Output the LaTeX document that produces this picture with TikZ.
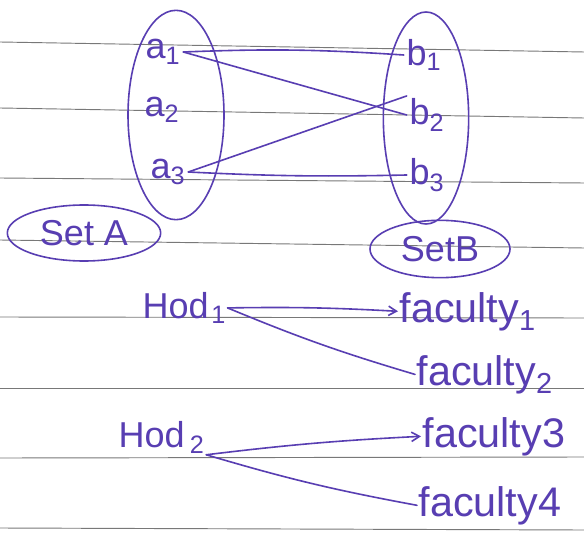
\documentclass[tikz,border=0pt]{standalone}
\usepackage{fontspec}
\setmainfont{Liberation Sans}
\usetikzlibrary{shapes.geometric,arrows.meta}
\definecolor{ink}{RGB}{88,62,178}
\definecolor{rule}{RGB}{120,120,120}
\tikzset{
  paperline/.style={draw=rule, line width=0.7pt},
  inkline/.style={draw=ink, line width=1.2pt, line cap=round},
  elem/.style={text=ink, font=\fontsize{27}{30}\selectfont, inner sep=2pt},
  hodlbl/.style={text=ink, font=\fontsize{27}{30}\selectfont, inner sep=1pt},
  faclbl/.style={text=ink, font=\fontsize{31}{34}\selectfont, inner sep=1pt},
  setoval/.style={ellipse, draw=ink, line width=1.2pt, inner sep=0pt, text=ink, font=\fontsize{27}{30}\selectfont},
  tip/.style={-{Straight Barb[length=6pt,width=7pt]}}
}
\begin{document}
\begin{tikzpicture}[x=0.75pt,y=-0.75pt]
\path[use as bounding box, fill=white] (0,0) rectangle (584,541);
% ruled paper lines
\draw[paperline] (0,42) -- (584,52);
\draw[paperline] (0,108) -- (584,118);
\draw[paperline] (0,178) -- (584,183);
\draw[paperline] (0,240) -- (584,248);
\draw[paperline] (0,317) -- (584,318);
\draw[paperline] (0,388) -- (584,388);
\draw[paperline] (0,458) -- (584,457);
\draw[paperline] (0,528) -- (584,530);
% set ellipses
\node[setoval, minimum width=72pt, minimum height=157pt] (A) at (176,115) {};
\node[setoval, minimum width=64pt, minimum height=159pt] (B) at (426,118) {};
\node[setoval, minimum width=115pt, minimum height=42pt] (setA) at (84,233) {Set A};
\node[setoval, minimum width=105pt, minimum height=43pt] (setB) at (440,249) {SetB};
% elements
\node[elem] (a1) at (163,52) {a\textsubscript{1}};
\node[elem] (a2) at (162,110) {a\textsubscript{2}};
\node[elem] (a3) at (168,172) {a\textsubscript{3}};
\node[elem] (b1) at (424,55) {b\textsubscript{1}};
\node[elem] (b2) at (427,115) {b\textsubscript{2}};
\node[elem] (b3) at (427,175) {b\textsubscript{3}};
% mappings
\draw[inkline] (a1.east) to[bend left=3] (b1.west);
\draw[inkline] (a1.east) -- (b2.west);
\draw[inkline] (a3.east) -- (b2.north west);
\draw[inkline] (a3.east) to[bend right=2] (b3.west);
% HOD / faculty
\node[hodlbl, anchor=base west] (hod1) at (141,318) {Hod\hspace{2pt}\textsubscript{1}};
\node[hodlbl, anchor=base west] (hod2) at (117,447) {Hod\hspace{4pt}\textsubscript{2}};
\node[faclbl, anchor=base west] (f1) at (398,322) {faculty\textsubscript{1}};
\node[faclbl, anchor=base west] (f2) at (415,385) {faculty\textsubscript{2}};
\node[faclbl, anchor=base west] (f3) at (421,447) {faculty3};
\node[faclbl, anchor=base west] (f4) at (417,516) {faculty4};
\draw[inkline, tip] (hod1.east) to[bend left=2] (f1.west);
\draw[inkline] (hod1.east) to[bend right=3] (f2.west);
\draw[inkline, tip] (hod2.south east) to[bend left=2] (f3.west);
\draw[inkline] (hod2.south east) to[bend right=3] (f4.west);
\end{tikzpicture}
\end{document}
